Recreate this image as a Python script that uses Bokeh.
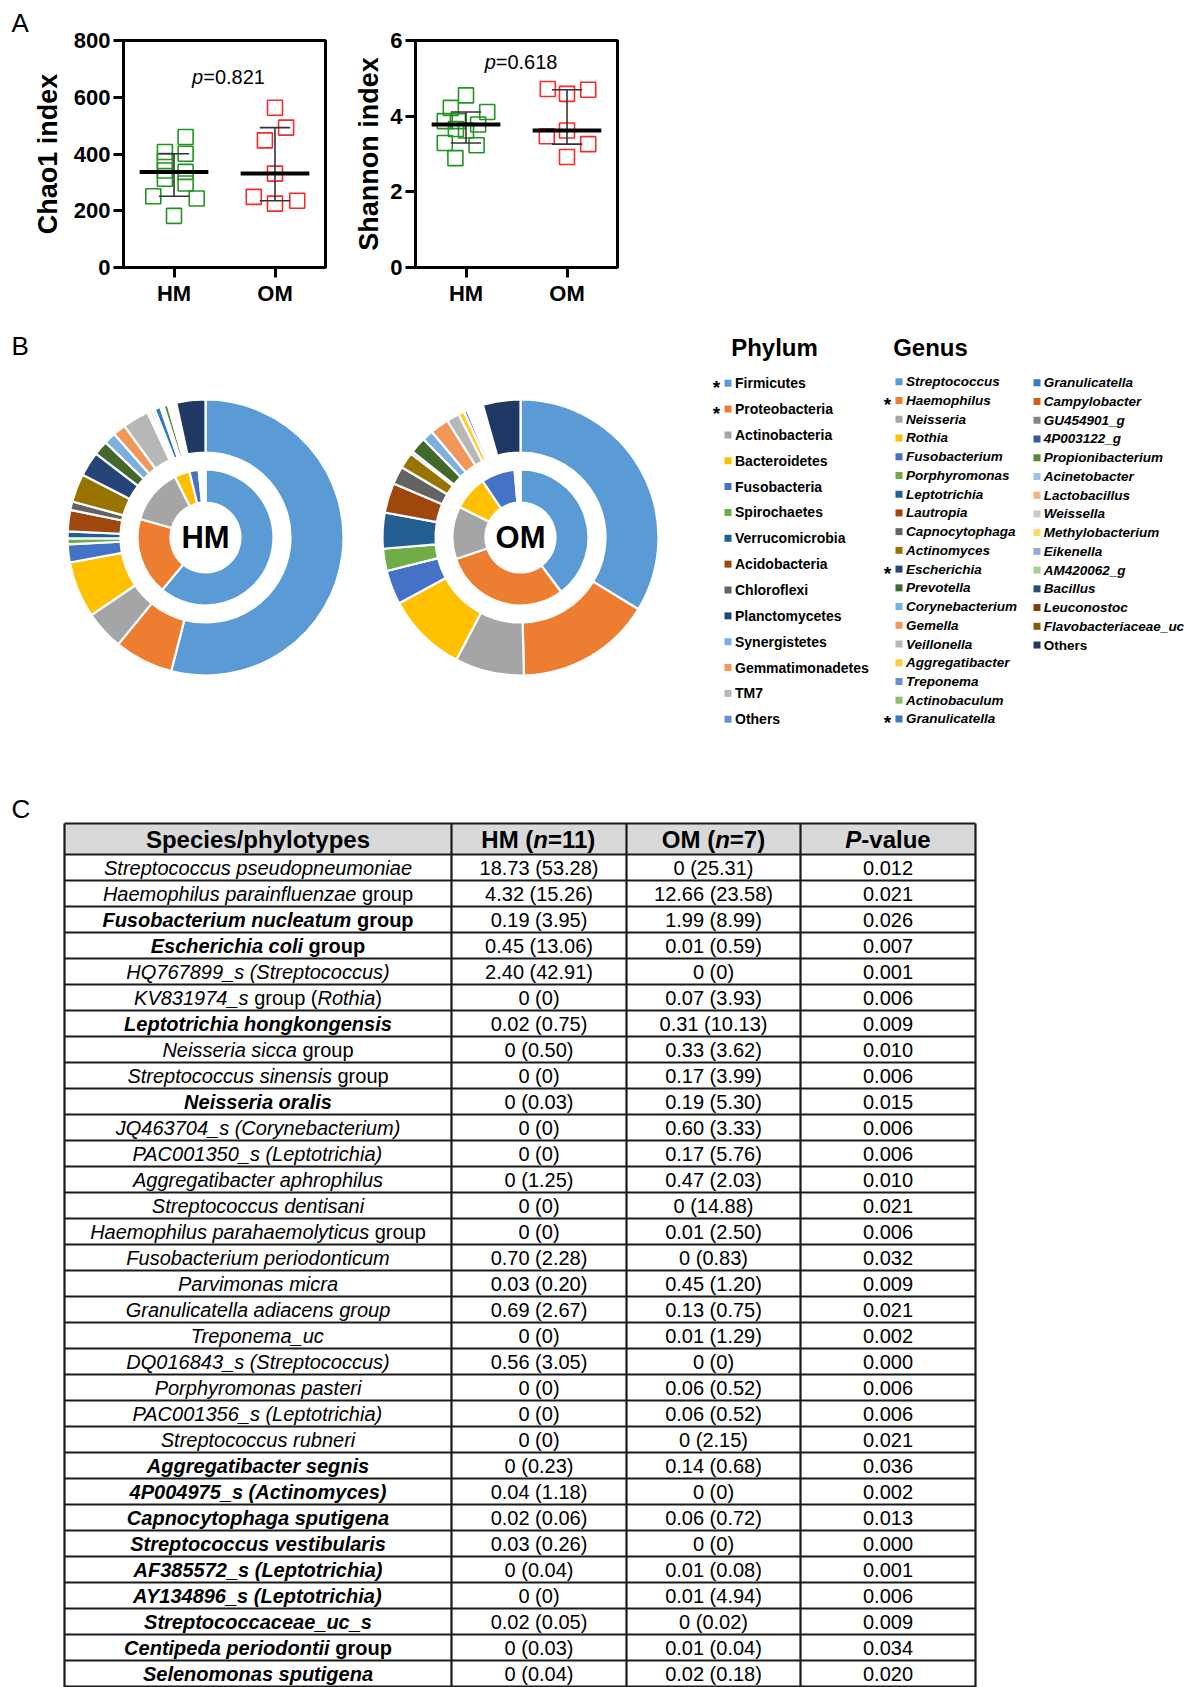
import numpy as np
from bokeh.plotting import figure
from bokeh.models import Range1d, FixedTicker, Label, ColumnDataSource
from bokeh.layouts import column, row
from bokeh.embed import file_html
from bokeh.resources import INLINE
from bokeh.core.properties import value, field

FONT = "Liberation Sans"

# ---------------- Panel A: alpha diversity per sample ----------------
groups = ["HM", "OM"]
chao1_hm = [460, 407, 401, 375, 342, 313, 337, 296, 251, 243, 182]
chao1_hm_jitter = [0.115, -0.09, 0.115, -0.09, -0.09, -0.09, 0.115, 0.115, -0.205, 0.225, 0.0]
chao1_om = [563, 493, 448, 331, 249, 235, 225]
chao1_om_jitter = [0.0, 0.11, -0.10, 0.0, -0.21, 0.22, 0.0]
shannon_hm = [4.55, 4.22, 4.11, 3.87, 3.87, 3.78, 3.66, 3.62, 3.29, 3.23, 2.89]
shannon_hm_jitter = [0.0, -0.15, 0.21, -0.21, -0.08, 0.12, -0.10, 0.0, -0.21, 0.105, -0.105]
shannon_om = [4.72, 4.70, 4.59, 3.62, 3.47, 3.26, 2.92]
shannon_om_jitter = [-0.19, 0.21, 0.0, 0.0, -0.20, 0.21, 0.0]
chao1_p = "0.821"
shannon_p = "0.618"

# ---------------- Panel B: relative abundance (%) ----------------
phyla = ["Firmicutes", "Proteobacteria", "Actinobacteria", "Bacteroidetes", "Fusobacteria",
         "Spirochaetes", "Verrucomicrobia", "Acidobacteria", "Chloroflexi", "Planctomycetes",
         "Synergistetes", "Gemmatimonadetes", "TM7", "Others"]
phylum_colors = ["#5B9BD5", "#ED7D31", "#A5A5A5", "#FFC000", "#4472C4", "#70AD47", "#255E91",
                 "#9E480E", "#636363", "#264478", "#7CAFDD", "#F1975A", "#B7B7B7", "#698ED0"]
phylum_hm = [61.0, 18.4, 13.2, 3.6, 2.2, 0.4, 0.3, 0.3, 0.2, 0.1, 0.1, 0.1, 0.1, 0.0]
phylum_om = [39.8, 30.1, 12.5, 8.2, 8.0, 0.4, 0.2, 0.2, 0.1, 0.1, 0.1, 0.1, 0.1, 0.1]
phylum_starred = ["Firmicutes", "Proteobacteria"]

genera = ["Streptococcus", "Haemophilus", "Neisseria", "Rothia", "Fusobacterium", "Porphyromonas",
          "Leptotrichia", "Lautropia", "Capnocytophaga", "Actinomyces", "Escherichia", "Prevotella",
          "Corynebacterium", "Gemella", "Veillonella", "Aggregatibacter", "Treponema",
          "Actinobaculum", "Granulicatella",
          "Granulicatella", "Campylobacter", "GU454901_g", "4P003122_g", "Propionibacterium",
          "Acinetobacter", "Lactobacillus", "Weissella", "Methylobacterium", "Eikenella",
          "AM420062_g", "Bacillus", "Leuconostoc", "Flavobacteriaceae_uc", "Others"]
genus_colors = ["#5B9BD5", "#ED7D31", "#A5A5A5", "#FFC000", "#4472C4", "#70AD47", "#255E91",
                "#9E480E", "#636363", "#997300", "#264478", "#43682B", "#7CAFDD", "#F1975A",
                "#B7B7B7", "#FFCD33", "#698ED0", "#8CC168", "#327DC2",
                "#327DC2", "#D26012", "#848484", "#335AA1", "#5A8A39", "#9DC3E6", "#F4B183",
                "#C9C9C9", "#FFD966", "#8FAADC", "#A9D18E", "#1F4E79", "#843C0C", "#7F6000",
                "#203864"]
genus_hm = [54.0, 6.9, 4.6, 6.6, 2.1, 0.7, 0.8, 2.5, 1.0, 3.3, 2.9, 1.7, 1.4, 1.5, 3.1,
            0.3, 0.3, 0.3, 0.7,
            0.1, 0.1, 0.1, 0.1, 0.5, 0.1, 0.1, 0.1, 0.1, 0.1, 0.2, 0.1, 0.1, 0.1, 3.4]
genus_om = [33.7, 15.9, 8.1, 9.4, 4.0, 2.6, 4.2, 3.5, 2.1, 1.9, 0.3, 1.9, 1.3, 2.2, 1.5,
            0.7, 0.4, 0.2, 0.2,
            0.1, 0.2, 0.1, 0.1, 0.1, 0.1, 0.1, 0.1, 0.1, 0.1, 0.1, 0.1, 0.1, 0.1, 4.4]
genus_starred_rows = [1, 10, 18]
genus_col_split = 19

# ---------------- Panel C: differentially abundant species ----------------
# "|" toggles italics; bold flags mark whole rows set in bold
table_header = ["Species/phylotypes", "HM (|n|=11)", "OM (|n|=7)", "|P|-value"]
species = [
    "|Streptococcus pseudopneumoniae|", "|Haemophilus parainfluenzae| group",
    "|Fusobacterium nucleatum| group", "|Escherichia coli| group",
    "|HQ767899_s (Streptococcus)|", "|KV831974_s| group (|Rothia|)",
    "|Leptotrichia hongkongensis|", "|Neisseria sicca| group",
    "|Streptococcus sinensis| group", "|Neisseria oralis|",
    "|JQ463704_s (Corynebacterium)|", "|PAC001350_s (Leptotrichia)|",
    "|Aggregatibacter aphrophilus|", "|Streptococcus dentisani|",
    "|Haemophilus parahaemolyticus| group", "|Fusobacterium periodonticum|",
    "|Parvimonas micra|", "|Granulicatella adiacens group|",
    "|Treponema_uc|", "|DQ016843_s (Streptococcus)|",
    "|Porphyromonas pasteri|", "|PAC001356_s (Leptotrichia)|",
    "|Streptococcus rubneri|", "|Aggregatibacter segnis|",
    "|4P004975_s (Actinomyces)|", "|Capnocytophaga sputigena|",
    "|Streptococcus vestibularis|", "|AF385572_s (Leptotrichia)|",
    "|AY134896_s (Leptotrichia)|", "|Streptococcaceae_uc_s|",
    "|Centipeda periodontii| group", "|Selenomonas sputigena|",
]
species_bold = [False, False, True, True, False, False, True, False, False, True,
                False, False, False, False, False, False, False, False, False, False,
                False, False, False, True, True, True, True, True, True, True, True, True]
hm_median_max = ["18.73 (53.28)", "4.32 (15.26)", "0.19 (3.95)", "0.45 (13.06)", "2.40 (42.91)",
                 "0 (0)", "0.02 (0.75)", "0 (0.50)", "0 (0)", "0 (0.03)", "0 (0)", "0 (0)",
                 "0 (1.25)", "0 (0)", "0 (0)", "0.70 (2.28)", "0.03 (0.20)", "0.69 (2.67)",
                 "0 (0)", "0.56 (3.05)", "0 (0)", "0 (0)", "0 (0)", "0 (0.23)", "0.04 (1.18)",
                 "0.02 (0.06)", "0.03 (0.26)", "0 (0.04)", "0 (0)", "0.02 (0.05)", "0 (0.03)",
                 "0 (0.04)"]
om_median_max = ["0 (25.31)", "12.66 (23.58)", "1.99 (8.99)", "0.01 (0.59)", "0 (0)",
                 "0.07 (3.93)", "0.31 (10.13)", "0.33 (3.62)", "0.17 (3.99)", "0.19 (5.30)",
                 "0.60 (3.33)", "0.17 (5.76)", "0.47 (2.03)", "0 (14.88)", "0.01 (2.50)",
                 "0 (0.83)", "0.45 (1.20)", "0.13 (0.75)", "0.01 (1.29)", "0 (0)",
                 "0.06 (0.52)", "0.06 (0.52)", "0 (2.15)", "0.14 (0.68)", "0 (0)",
                 "0.06 (0.72)", "0 (0)", "0.01 (0.08)", "0.01 (4.94)", "0 (0.02)",
                 "0.01 (0.04)", "0.02 (0.18)"]
p_values = ["0.012", "0.021", "0.026", "0.007", "0.001", "0.006", "0.009", "0.010", "0.006",
            "0.015", "0.006", "0.006", "0.010", "0.021", "0.006", "0.032", "0.009", "0.021",
            "0.002", "0.000", "0.006", "0.006", "0.021", "0.036", "0.002", "0.013", "0.000",
            "0.001", "0.006", "0.009", "0.034", "0.020"]

# ---------------- text metrics (Arial-compatible advance widths) ----------------
REG_W, BOLD_W = {}, {}
for chars, w in [("ijl", 222), (" ,./:;!ftI[]", 278), ("()-r", 333), ("cksvxyzJ", 500),
                 ("0123456789abdeghnopqu_L?", 556), ("=+", 584), ("FTZ", 611),
                 ("ABEKPSVXY", 667), ("CDHNRUw", 722), ("GOQ", 778), ("mM", 833), ("W", 944)]:
    for ch in chars:
        REG_W[ch] = w
for chars, w in [(" ,./:;!iIjl[]", 278), ("()-ft", 333), ("r", 389), ("z", 500),
                 ("0123456789aceksvxy_J?", 556), ("=+", 584), ("bdghnopquFLTZ", 611),
                 ("EPSVXY", 667), ("ABCDHKNRU", 722), ("GOQw", 778), ("M", 833), ("m", 889),
                 ("W", 944)]:
    for ch in chars:
        BOLD_W[ch] = w


def text_width(s, size, bold=False):
    tbl = BOLD_W if bold else REG_W
    return sum(tbl.get(ch, 556) for ch in s) * size / 1000.0


def rich_runs(s, bold, size, cx):
    """Split '|'-marked text into runs, returning (x_left, text, style) centred on cx."""
    segs = [(t, i % 2 == 1) for i, t in enumerate(s.split("|")) if t]
    total = sum(text_width(t, size, bold) for t, _ in segs)
    x = cx - total / 2.0
    runs = []
    for t, it in segs:
        lead = len(t) - len(t.lstrip(" "))
        x += text_width(" " * lead, size, bold)
        core = t.strip(" ")
        style = ("bold italic" if it else "bold") if bold else ("italic" if it else "normal")
        runs.append((x, core, style))
        x += text_width(t.lstrip(" "), size, bold)
    return runs


GREEN = "#239323"
RED = "#f52a2a"


# ---------------- Panel A figures ----------------
def diversity_panel(ylabel, ymax, yticks, series, p_text, p_pos, width, left, right, standoff):
    p = figure(width=width, height=317, x_range=Range1d(0.5, 2.5), y_range=Range1d(0, ymax),
               output_backend="svg", toolbar_location=None,
               min_border_left=left, min_border_right=right, min_border_top=40,
               min_border_bottom=50)
    p.xgrid.visible = False
    p.ygrid.visible = False
    p.outline_line_color = "black"
    p.outline_line_width = 3
    p.xaxis.ticker = FixedTicker(ticks=[1, 2])
    p.xaxis.major_label_overrides = {1: groups[0], 2: groups[1]}
    p.yaxis.ticker = FixedTicker(ticks=yticks)
    p.yaxis.axis_label = ylabel
    p.yaxis.axis_label_standoff = standoff
    p.yaxis.axis_label_text_font = FONT
    p.yaxis.axis_label_text_font_size = "27px"
    p.yaxis.axis_label_text_font_style = "bold"
    p.yaxis.axis_label_text_color = "black"
    for ax in (p.xaxis[0], p.yaxis[0]):
        ax.axis_line_width = 3
        ax.axis_line_color = "black"
        ax.major_tick_line_width = 3
        ax.major_tick_line_color = "black"
        ax.major_tick_out = 10
        ax.major_tick_in = 0
        ax.minor_tick_out = 0
        ax.minor_tick_in = 0
        ax.major_label_standoff = 3
        ax.major_label_text_font = FONT
        ax.major_label_text_font_size = "22px"
        ax.major_label_text_font_style = "bold"
        ax.major_label_text_color = "black"

    for gi, (vals, jit, color) in enumerate(series):
        xc = gi + 1
        xs = [xc + j for j in jit]
        p.scatter(xs, vals, marker="square", size=15, fill_color=None,
                  line_color=color, line_width=1.6)
        q1, med, q3 = np.percentile(vals, [25, 50, 75], method="weibull")
        p.segment(x0=[xc], y0=[q1], x1=[xc], y1=[q3], line_color="#333333", line_width=1.6)
        p.segment(x0=[xc - 0.15, xc - 0.15], y0=[q1, q3], x1=[xc + 0.15, xc + 0.15],
                  y1=[q1, q3], line_color="#333333", line_width=1.6)
        p.segment(x0=[xc - 0.34], y0=[med], x1=[xc + 0.34], y1=[med],
                  line_color="black", line_width=4)

    # p-value annotation: italic "p" followed by the value
    wp = text_width("p", 20)
    wv = text_width("=" + p_text, 20)
    x_off = -(wp + wv) / 2
    p.add_layout(Label(x=p_pos[0], y=p_pos[1], x_offset=x_off, text="p",
                       text_font=FONT, text_font_size="20px", text_font_style="italic",
                       text_align="left", text_baseline="middle", text_color="black"))
    p.add_layout(Label(x=p_pos[0], y=p_pos[1], x_offset=x_off + wp, text="=" + p_text,
                       text_font=FONT, text_font_size="20px", text_align="left",
                       text_baseline="middle", text_color="black"))
    return p


pA1 = diversity_panel("Chao1 index", 800, [0, 200, 400, 600, 800],
                      [(chao1_hm, chao1_hm_jitter, GREEN), (chao1_om, chao1_om_jitter, RED)],
                      chao1_p, (1.54, 671), 340, 123, 15, 8)
pA2 = diversity_panel("Shannon index", 6, [0, 2, 4, 6],
                      [(shannon_hm, shannon_hm_jitter, GREEN), (shannon_om, shannon_om_jitter, RED)],
                      shannon_p, (1.545, 5.43), 297, 75, 20, 3)

# panel letter "A" sits in the title slot, pulled left to the page margin
pA1.title.text = "A"
pA1.title.align = "left"
pA1.title.offset = -112
pA1.title.standoff = 5
pA1.title.text_font = FONT
pA1.title.text_font_size = "26px"
pA1.title.text_font_style = "normal"
pA1.title.text_color = "black"

# ---------------- Panels B and C canvas ----------------
PAGE_H = 1687
TOP = 317
W = 1189
H = PAGE_H - TOP
pb = figure(width=W, height=H, x_range=Range1d(0, W), y_range=Range1d(0, H),
            output_backend="svg", toolbar_location=None, min_border=0,
            x_axis_type=None, y_axis_type=None)
pb.grid.visible = False
pb.outline_line_color = None


def Y(py):
    return PAGE_H - py


def put_text(xs, ys, texts, size, style="normal", align="left", baseline="middle", color="black"):
    pb.text(x=xs, y=ys, text=texts, text_font=value(FONT), text_font_size=size,
            text_font_style=style, text_align=align, text_baseline=baseline, text_color=color)


put_text([11], [Y(345)], ["B"], "26px")
put_text([11], [Y(808)], ["C"], "26px")


def donut(cx, cy, vals, colors, r0, r1):
    v = np.asarray(vals, dtype=float)
    end = np.cumsum(v) / v.sum()
    start = np.concatenate([[0.0], end[:-1]])
    keep = v > 0
    pb.annular_wedge(x=cx, y=cy, inner_radius=r0, outer_radius=r1,
                     start_angle=(np.pi / 2 - 2 * np.pi * start)[keep],
                     end_angle=(np.pi / 2 - 2 * np.pi * end)[keep],
                     direction="clock", fill_color=list(np.array(colors)[keep]),
                     line_color="white", line_width=2.2)


for cx, name, ph, ge in [(205, "HM", phylum_hm, genus_hm), (520, "OM", phylum_om, genus_om)]:
    donut(cx, Y(537), ph, phylum_colors, 35, 68)
    donut(cx, Y(537), ge, genus_colors, 85, 138)
    put_text([cx], [Y(537)], [name], "31px", "bold", align="center")

# legend
put_text([774, 930], [Y(347), Y(347)], ["Phylum", "Genus"], "24px", "bold", align="center")

ph_y = [Y(382.7 + 25.85 * i) for i in range(len(phyla))]
pb.scatter([727.5] * len(phyla), ph_y, marker="square", size=7,
           fill_color=phylum_colors, line_color=None)
put_text([734.5] * len(phyla), ph_y, phyla, "14px", "bold")
star_idx = [phyla.index(n) for n in phylum_starred]
put_text([716] * len(star_idx), [ph_y[i] - 4 for i in star_idx], ["*"] * len(star_idx),
         "19px", "bold", align="center")

col_a = genera[:genus_col_split]
col_b = genera[genus_col_split:]
ga_y = [Y(381.3 + 18.73 * i) for i in range(len(col_a))]
gb_y = [Y(382.3 + 18.73 * i) for i in range(len(col_b))]
pb.scatter([898.5] * len(col_a), ga_y, marker="square", size=7,
           fill_color=genus_colors[:genus_col_split], line_color=None)
pb.scatter([1036.5] * len(col_b), gb_y, marker="square", size=7,
           fill_color=genus_colors[genus_col_split:], line_color=None)
put_text([905.5] * len(col_a), ga_y, col_a, "13.5px", "bold italic")
put_text([1043.3] * (len(col_b) - 1), gb_y[:-1], col_b[:-1], "13.5px", "bold italic")
put_text([1043.3], [gb_y[-1]], [col_b[-1]], "13.5px", "bold")
put_text([887] * len(genus_starred_rows), [ga_y[i] - 4 for i in genus_starred_rows],
         ["*"] * len(genus_starred_rows), "19px", "bold", align="center")

# table
col_edges = [64, 451, 626, 800, 975]
t_top, head_bot, pitch = 823, 854, 26.0
n_rows = len(species)
t_bot = head_bot + n_rows * pitch + 10
pb.quad(left=[col_edges[0]], right=[col_edges[-1]], top=[Y(t_top)], bottom=[Y(head_bot)],
        fill_color="#D9D9D9", line_color=None)
h_lines = [t_top, head_bot] + [head_bot + pitch * (i + 1) for i in range(n_rows)]
pb.segment(x0=[col_edges[0]] * len(h_lines), x1=[col_edges[-1]] * len(h_lines),
           y0=[Y(v) for v in h_lines], y1=[Y(v) for v in h_lines],
           line_color="#1a1a1a", line_width=2.2)
pb.segment(x0=col_edges, x1=col_edges, y0=[Y(t_top)] * 5, y1=[Y(t_bot)] * 5,
           line_color="#1a1a1a", line_width=2.2)

cell = {"x": [], "y": [], "text": [], "style": [], "size": []}
col_centres = [(col_edges[i] + col_edges[i + 1]) / 2 for i in range(4)]


def add_cell(s, bold, size, cx, py):
    for x, t, st in rich_runs(s, bold, size, cx):
        cell["x"].append(x)
        cell["y"].append(Y(py))
        cell["text"].append(t)
        cell["style"].append(st)
        cell["size"].append(f"{size}px")


for j, h in enumerate(table_header):
    add_cell(h, True, 24, col_centres[j], (t_top + head_bot) / 2 + 0.5)
for i in range(n_rows):
    py = head_bot + pitch * (i + 0.5)
    add_cell(species[i], species_bold[i], 20, col_centres[0], py)
    add_cell(hm_median_max[i], False, 20, col_centres[1], py)
    add_cell(om_median_max[i], False, 20, col_centres[2], py)
    add_cell(p_values[i], False, 20, col_centres[3], py)

pb.text(x="x", y="y", text="text", source=ColumnDataSource(cell), text_font=value(FONT),
        text_font_size=field("size"), text_font_style=field("style"),
        text_align="left", text_baseline="middle", text_color="black")

layout = column(row(pA1, pA2, spacing=0), pb, spacing=0)
open("out.html", "w").write(file_html(layout, INLINE, "Oral microbiota"))
